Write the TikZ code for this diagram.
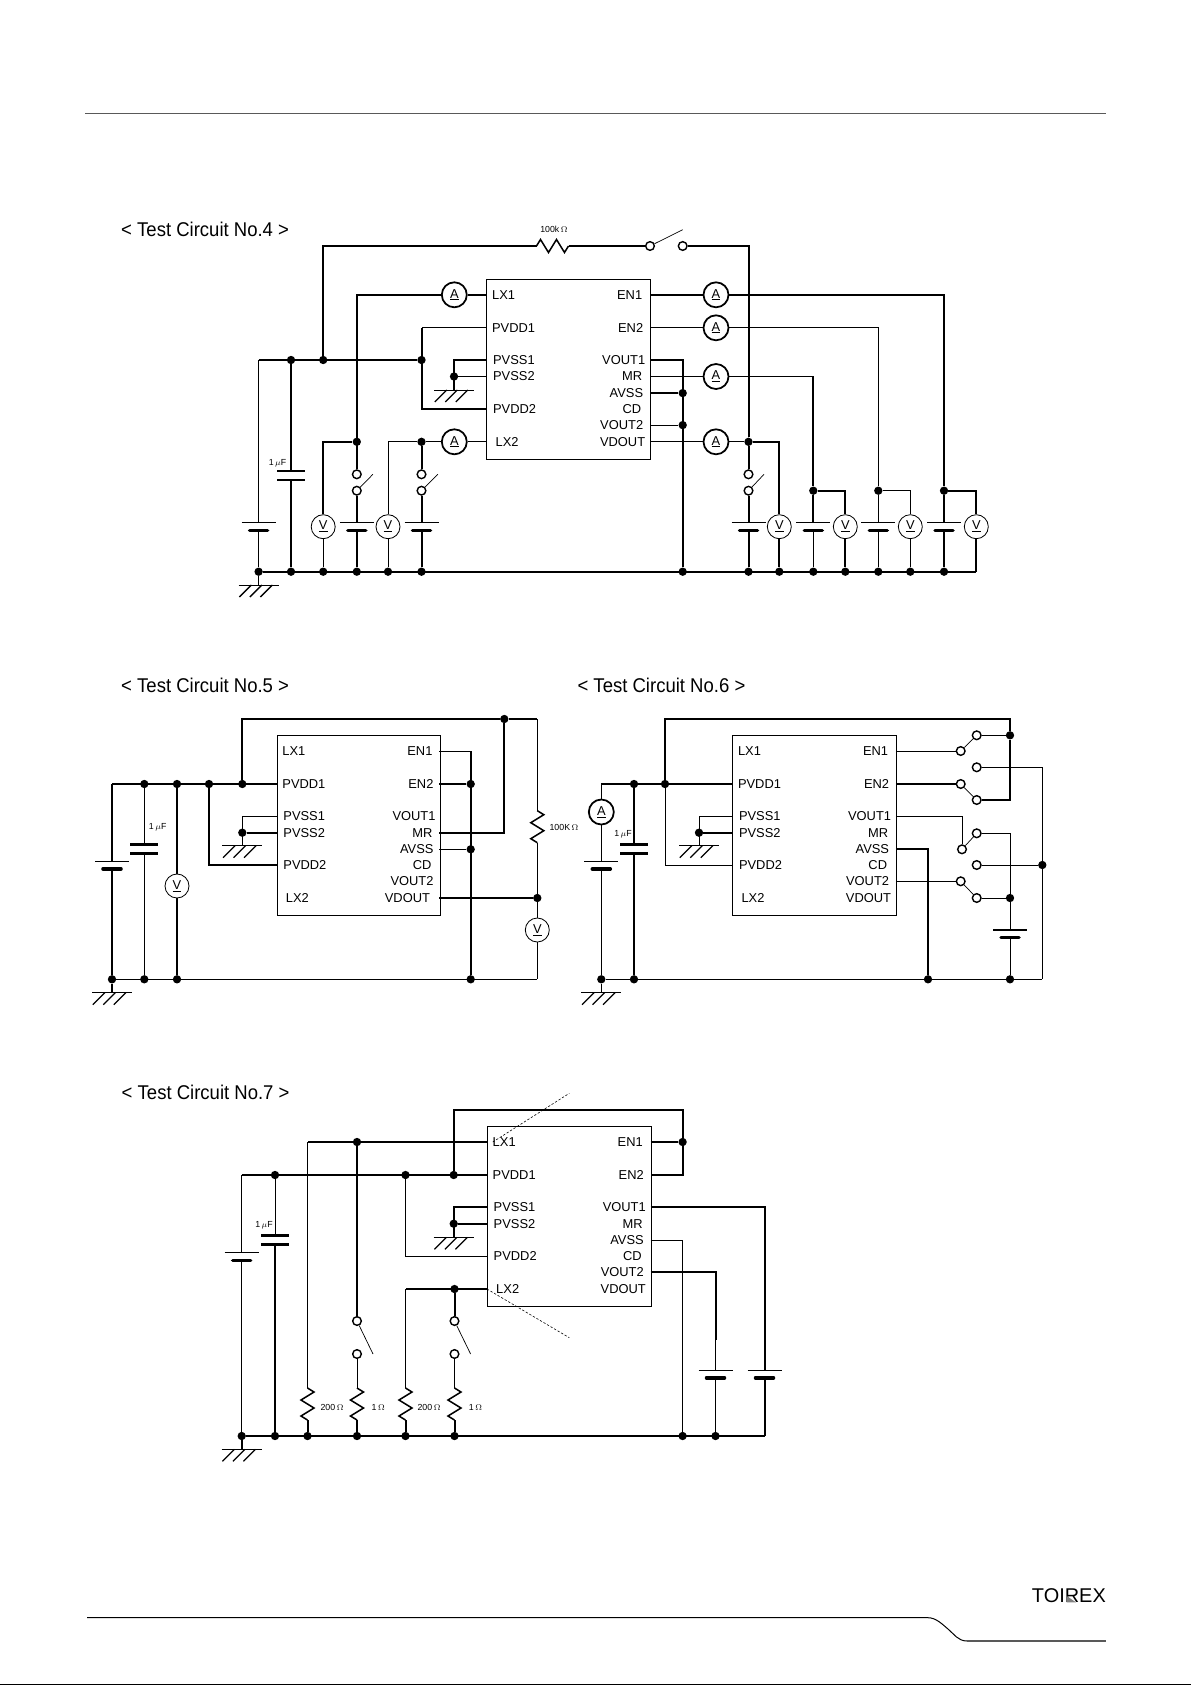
\documentclass[tikz,border=0pt]{standalone}
\usepackage{fontspec}
\setmainfont{Liberation Sans}
\newfontfamily\titlefont[FakeStretch=0.93]{Liberation Sans}
\usepackage{tikz}

\tikzset{
	wire/.style={line width=1.7pt},
	fine/.style={line width=.85pt},
	title/.style={anchor=west,inner sep=0,font=\titlefont\fontsize{17pt}{18pt}\selectfont},
	pinleft/.style={anchor=west,inner sep=0,font=\fontsize{11pt}{12pt}\selectfont},
	pinright/.style={anchor=east,inner sep=0,font=\fontsize{11pt}{12pt}\selectfont},
	tiny label/.style={inner sep=0,font=\fontsize{7.5pt}{9pt}\selectfont},
	dot/.style={circle,fill,inner sep=0,minimum size=.25cm},
	contact/.style={circle,draw,fill=white,inner sep=0,minimum size=.26cm,line width=1.2pt},
	arm/.style={line width=.6pt},
	ameter/.style={circle,draw,line width=1.5pt,inner sep=0,minimum size=.75cm,font=\fontsize{11pt}{12pt}\selectfont},
	vmeter/.style={circle,draw,line width=.7pt,inner sep=0,minimum size=.72cm,font=\fontsize{11pt}{12pt}\selectfont},
	icbody/.style={draw,fine,inner sep=0,minimum width=4.905cm,minimum height=5.4cm,anchor=north west},
	cell/.pic={
		\coordinate (-t) at (0,0);
		\coordinate (-b) at (0,7.6);
		\draw[line width=1.2pt] (-17,0) -- (17,0);
		\draw[line width=3pt,line cap=round] (-9,7.6) -- (9,7.6);
	},
	cap/.pic={
		\coordinate (-t) at (0,0);
		\coordinate (-b) at (0,9);
		\draw[line width=2.2pt] (-14,0) -- (14,0);
		\draw[line width=2.2pt] (-14,9) -- (14,9);
	},
	res/.pic={
		\coordinate (-a) at (0,-16);
		\coordinate (-b) at (0,16);
		\draw[line width=1.3pt] (-a) -- (6.5,-12) -- (-6.5,-4) -- (6.5,4) -- (-6.5,12) -- (-b);
	},
	earth/.pic={
		\coordinate (-t) at (0,0);
		\draw[fine] (-20,0) -- (20,0);
		\draw[line width=1.1pt] (-7.2,0) -- (-19.2,12);
		\draw[line width=1.1pt] (3.3,0) -- (-8.7,12);
		\draw[line width=1.1pt] (13.8,0) -- (1.8,12);
	},
	icblock/.pic={
		\node[icbody] (-body) at (0,-1) {};
		\node[pinleft] (-l1) at (5.5,15.3) {LX1};
		\node[pinleft] (-l2) at (5.5,48.3) {PVDD1};
		\node[pinleft] (-l3) at (6.5,80.5) {PVSS1};
		\node[pinleft] (-l4) at (6.5,97) {PVSS2};
		\node[pinleft] (-l5) at (6.5,129.6) {PVDD2};
		\node[pinleft] (-l6) at (9,162.3) {LX2};
		\node[pinright] (-r1) at (156,15.3) {EN1};
		\node[pinright] (-r2) at (157,48.3) {EN2};
		\node[pinright] (-r3) at (159,80.5) {VOUT1};
		\node[pinright] (-r4) at (156,97) {MR};
		\node[pinright] (-r5) at (157,113.6) {AVSS};
		\node[pinright] (-r6) at (155,129.6) {CD};
		\node[pinright] (-r7) at (157,145.6) {VOUT2};
		\node[pinright] (-r8) at (#1,162.3) {VDOUT};
	}
}

\begin{document}
\begin{tikzpicture}[x=.03cm,y=-.03cm]
	\useasboundingbox (0,0) rectangle (1191,1685);

	% page furniture
	\draw[fine,gray!70!black] (85,113) -- (1106,113);
	\draw[fine] (87,1617.7) -- (928,1617.7) .. controls (936,1617.7) and (942,1624) .. (948,1629) .. controls (954,1634) and (958,1641) .. (967,1641);
	\draw[line width=1.1pt,gray!70!black] (967,1641) -- (1105.7,1641);
	\draw[line width=1.3pt] (0,1684.5) -- (1191,1684.5);
	\node[anchor=east,inner sep=0,font=\fontsize{17pt}{18pt}\selectfont] (logo) at (1106,1595.2) {TOIREX};
	\fill[gray] (1066.7,1596) -- (1076,1602.3) -- (1066.7,1602.3) -- cycle;

	% circuit no.4
	\node[title] (t_4) at (121,229) {< Test Circuit No.4 >};
	\pic (u_4) at (486.4,279.5) {icblock=159};
	\node[dot] (g4_1) at (258.6,571.7) {};
	\node[dot] (g4_2) at (291,571.7) {};
	\node[dot] (g4_3) at (323.2,571.7) {};
	\node[dot] (g4_4) at (356.8,571.7) {};
	\node[dot] (g4_5) at (388,571.7) {};
	\node[dot] (g4_6) at (421.5,571.7) {};
	\node[dot] (g4_7) at (682.7,571.7) {};
	\node[dot] (g4_8) at (748.5,571.7) {};
	\node[dot] (g4_9) at (779.3,571.7) {};
	\node[dot] (g4_10) at (813.3,571.7) {};
	\node[dot] (g4_11) at (845.3,571.7) {};
	\node[dot] (g4_12) at (878.3,571.7) {};
	\node[dot] (g4_13) at (910.3,571.7) {};
	\node[dot] (g4_14) at (944,571.7) {};
	\coordinate (c4_1) at (976.3,571.7);
	\coordinate (c4_2) at (258.6,360);
	\node[dot] (d4_1) at (291,360) {};
	\node[dot] (d4_2) at (323.2,360) {};
	\node[dot] (d4_3) at (421.5,360) {};
	\node[dot] (d4_4) at (454,376.5) {};
	\node[dot] (d4_5) at (356.8,441.8) {};
	\node[dot] (d4_6) at (421.5,441.8) {};
	\node[dot] (d4_7) at (748.5,441.8) {};
	\node[dot] (d4_8) at (813.3,490.7) {};
	\node[dot] (d4_9) at (878.3,490.7) {};
	\node[dot] (d4_10) at (944,490.7) {};
	\node[dot] (d4_11) at (682.7,393.1) {};
	\node[dot] (d4_12) at (682.7,425.1) {};
	\node[ameter] (a4_1) at (454.3,294.8) {\underline{A}};
	\node[ameter] (a4_2) at (454.3,441.8) {\underline{A}};
	\node[ameter] (a4_3) at (716,294.8) {\underline{A}};
	\node[ameter] (a4_4) at (716,327.8) {\underline{A}};
	\node[ameter] (a4_5) at (716,376.5) {\underline{A}};
	\node[ameter] (a4_6) at (716,441.8) {\underline{A}};
	\node[vmeter] (v4_1) at (323.2,526.7) {\underline{V}};
	\node[vmeter] (v4_2) at (388,526.7) {\underline{V}};
	\node[vmeter] (v4_3) at (779.3,526.7) {\underline{V}};
	\node[vmeter] (v4_4) at (845.3,526.7) {\underline{V}};
	\node[vmeter] (v4_5) at (910.3,526.7) {\underline{V}};
	\node[vmeter] (v4_6) at (976.3,526.7) {\underline{V}};
	\pic (b4_1) at (258.6,522.7) {cell};
	\pic (b4_2) at (356.8,522.7) {cell};
	\pic (b4_3) at (421.5,522.7) {cell};
	\pic (b4_4) at (748.5,522.7) {cell};
	\pic (b4_5) at (813.3,522.7) {cell};
	\pic (b4_6) at (878.3,522.7) {cell};
	\pic (b4_7) at (944,522.7) {cell};
	\pic (k4_1) at (291,471) {cap};
	\pic (e4_1) at (258.6,585) {earth};
	\pic (e4_2) at (454,390) {earth};
	\pic[rotate=90] (r4_1) at (552.5,246) {res};
	\node[tiny label] (l4_1) at (554,229) {100k$\,\Omega$};
	\node[tiny label] (l4_2) at (277.5,463.3) {1\,$\mu$F};
	\node[contact] (s4_1) at (650,246) {};
	\node[contact] (s4_2) at (682.7,246) {};
	\node[contact] (s4_3) at (356.8,474.3) {};
	\node[contact] (s4_4) at (356.8,490.7) {};
	\node[contact] (s4_5) at (421.5,474.3) {};
	\node[contact] (s4_6) at (421.5,490.7) {};
	\node[contact] (s4_7) at (748.5,474.3) {};
	\node[contact] (s4_8) at (748.5,490.7) {};
	\coordinate (h4_1) at (682.7,229.7);
	\coordinate (h4_2) at (372.9,474.3);
	\coordinate (h4_3) at (437.9,474.3);
	\coordinate (h4_4) at (764,474.3);
	\draw[arm] (s4_1) -- (h4_1);
	\draw[arm] (s4_4) -- (h4_2);
	\draw[arm] (s4_6) -- (h4_3);
	\draw[arm] (s4_8) -- (h4_4);
	\draw[wire] (g4_1) -- (c4_1);
	\draw[fine] (c4_2) -- (b4_1-t);
	\draw[fine] (b4_1-b) -- (g4_1) -- (e4_1-t);
	\draw[wire] (c4_2) -- (d4_3);
	\draw[wire] (d4_1) -- (k4_1-t);
	\draw[wire] (k4_1-b) -- (g4_2);
	\draw[wire] (d4_2) |- (r4_1-a);
	\draw[wire] (r4_1-b) -- (s4_1);
	\draw[wire] (s4_2) -| (d4_7);
	\draw[wire] (u_4-body.north west |- a4_1) -- (a4_1);
	\draw[wire] (a4_1) -| (s4_3);
	\draw[wire] (s4_4) -- (b4_2-t);
	\draw[wire] (b4_2-b) -- (g4_4);
	\draw[wire] (d4_5) -| (v4_1);
	\draw[fine] (v4_1) -- (g4_3);
	\draw[fine] (u_4-body.north west |- a4_2) -- (a4_2);
	\draw[fine] (a4_2) -- (d4_6);
	\draw[fine] (d4_6) -| (v4_2);
	\draw[fine] (v4_2) -- (g4_5);
	\draw[wire] (d4_6) -- (s4_5);
	\draw[wire] (s4_6) -- (b4_3-t);
	\draw[wire] (b4_3-b) -- (g4_6);
	\draw[fine] (486.4,327.8) -- (421.5,327.8);
	\draw[wire] (421.5,327.8) -- (421.5,409.1) -- (486.4,409.1);
	\draw[wire] (486.4,360) -- (454,360) -- (e4_2-t);
	\draw[wire] (d4_4) -- (486.4,376.5);
	\draw[wire] (u_4-body.north east |- a4_3) -- (a4_3);
	\draw[wire] (a4_3) -| (d4_10);
	\draw[wire] (d4_10) -- (b4_7-t);
	\draw[wire] (b4_7-b) -- (g4_14);
	\draw[wire] (d4_10) -| (v4_6);
	\draw[wire] (v4_6) -- (c4_1);
	\draw[fine] (u_4-body.north east |- a4_4) -- (a4_4);
	\draw[fine] (a4_4) -| (d4_9);
	\draw[fine] (d4_9) -- (b4_6-t);
	\draw[fine] (b4_6-b) -- (g4_12);
	\draw[fine] (d4_9) -| (v4_5);
	\draw[fine] (v4_5) -- (g4_13);
	\draw[wire] (u_4-body.north east |- a4_5) -- (a4_5);
	\draw[wire] (a4_5) -| (d4_8);
	\draw[wire] (d4_8) -- (b4_5-t);
	\draw[fine] (b4_5-b) -- (g4_10);
	\draw[wire] (d4_8) -| (v4_4);
	\draw[wire] (v4_4) -- (g4_11);
	\draw[fine] (u_4-body.north east |- a4_6) -- (a4_6);
	\draw[fine] (a4_6) -- (d4_7);
	\draw[wire] (d4_7) -- (s4_7);
	\draw[wire] (s4_8) -- (b4_4-t);
	\draw[wire] (b4_4-b) -- (g4_8);
	\draw[wire] (d4_7) -| (v4_3);
	\draw[wire] (v4_3) -- (g4_9);
	\draw[wire] (650,360) -| (g4_7);
	\draw[wire] (650,393.1) -- (d4_11);
	\draw[fine] (650,425.1) -- (d4_12);

	% circuit no.5
	\node[title] (t_5) at (121,685) {< Test Circuit No.5 >};
	\pic (u_5) at (276.7,735.7) {icblock=153.5};
	\node[dot] (g5_1) at (112,979.3) {};
	\node[dot] (g5_2) at (144.3,979.3) {};
	\node[dot] (g5_3) at (177,979.3) {};
	\node[dot] (g5_4) at (470.7,979.3) {};
	\coordinate (c5_1) at (537.3,979.3);
	\coordinate (c5_2) at (112,784);
	\coordinate (c5_3) at (537.3,719);
	\node[dot] (d5_1) at (144.3,784) {};
	\node[dot] (d5_2) at (177,784) {};
	\node[dot] (d5_3) at (209,784) {};
	\node[dot] (d5_4) at (242.3,784) {};
	\node[dot] (d5_5) at (504.3,719) {};
	\node[dot] (d5_6) at (242.3,832.7) {};
	\node[dot] (d5_7) at (470.7,784) {};
	\node[dot] (d5_8) at (470.7,849.3) {};
	\node[dot] (d5_9) at (537.3,898) {};
	\node[vmeter] (v5_1) at (177,886) {\underline{V}};
	\node[vmeter] (v5_2) at (537.3,930) {\underline{V}};
	\pic (b5_1) at (112,861.3) {cell};
	\pic (k5_1) at (144.3,844.3) {cap};
	\pic (e5_1) at (112,992.7) {earth};
	\pic (e5_2) at (242.3,845.7) {earth};
	\pic (r5_1) at (537.3,826.7) {res};
	\node[tiny label] (l5_1) at (564,827.7) {100K$\,\Omega$};
	\node[tiny label] (l5_2) at (157.7,827.7) {1\,$\mu$F};
	\draw[fine] (g5_1) -- (c5_1);
	\draw[wire] (g5_1) -- (e5_1-t);
	\draw[wire] (c5_2) -- (276.7,784);
	\draw[wire] (c5_2) -- (b5_1-t);
	\draw[wire] (b5_1-b) -- (g5_1);
	\draw[fine] (d5_1) -- (k5_1-t);
	\draw[fine] (k5_1-b) -- (g5_2);
	\draw[wire] (d5_2) -- (v5_1);
	\draw[wire] (v5_1) -- (g5_3);
	\draw[wire] (d5_3) |- (276.7,865.3);
	\draw[wire] (d5_4) |- (d5_5);
	\draw[wire] (d5_5) -- (c5_3);
	\draw[fine] (c5_3) -- (r5_1-a);
	\draw[fine] (r5_1-b) -- (d5_9);
	\draw[fine] (d5_9) -- (v5_2);
	\draw[fine] (v5_2) -- (c5_1);
	\draw[wire] (d5_5) |- (439.3,832.7);
	\draw[fine] (276.7,816.2) -- (242.3,816.2) -- (e5_2-t);
	\draw[wire] (d5_6) -- (276.7,832.7);
	\draw[fine] (439.3,751) -- (470.7,751);
	\draw[wire] (470.7,751) -- (g5_4);
	\draw[wire] (439.3,784) -- (d5_7);
	\draw[fine] (439.3,849.3) -- (d5_8);
	\draw[wire] (439.3,898) -- (d5_9);

	% circuit no.6
	\node[title] (t_6) at (577.3,685) {< Test Circuit No.6 >};
	\pic (u_6) at (732.3,735.7) {icblock=159};
	\node[dot] (g6_1) at (601.3,979.3) {};
	\node[dot] (g6_2) at (634,979.3) {};
	\node[dot] (g6_3) at (928,979.3) {};
	\node[dot] (g6_4) at (1010,979.3) {};
	\coordinate (c6_1) at (1042.3,979.3);
	\coordinate (c6_2) at (601.3,784);
	\node[dot] (d6_1) at (634,784) {};
	\node[dot] (d6_2) at (665,784) {};
	\node[dot] (d6_3) at (699,832.7) {};
	\node[dot] (d6_4) at (1010,735.3) {};
	\node[dot] (d6_5) at (1010,898) {};
	\node[dot] (d6_6) at (1042.3,865) {};
	\node[ameter] (a6_1) at (601.3,812) {\underline{A}};
	\pic (b6_1) at (601.3,861.3) {cell};
	\pic (b6_2) at (1010,930) {cell};
	\pic (k6_1) at (634,844.3) {cap};
	\pic (e6_1) at (601.3,992.7) {earth};
	\pic (e6_2) at (699,845.7) {earth};
	\node[tiny label] (l6_1) at (623,834.7) {1\,$\mu$F};
	\node[contact] (s6_1) at (960.7,751) {};
	\node[contact] (s6_2) at (976.7,735.3) {};
	\node[contact] (s6_3) at (976.7,767.3) {};
	\node[contact] (s6_4) at (960.7,784) {};
	\node[contact] (s6_5) at (976.7,800) {};
	\node[contact] (s6_6) at (962,849.3) {};
	\node[contact] (s6_7) at (976.7,833.3) {};
	\node[contact] (s6_8) at (976.7,865) {};
	\node[contact] (s6_9) at (960.7,881.3) {};
	\node[contact] (s6_10) at (976.7,898) {};
	\draw[arm] (s6_1) -- (s6_2);
	\draw[arm] (s6_4) -- (s6_5);
	\draw[arm] (s6_6) -- (s6_7);
	\draw[arm] (s6_9) -- (s6_10);
	\draw[fine] (g6_1) -- (c6_1);
	\draw[fine] (g6_1) -- (e6_1-t);
	\draw[wire] (c6_2) -- (732.3,784);
	\draw[fine] (c6_2) -- (a6_1);
	\draw[fine] (a6_1) -- (b6_1-t);
	\draw[fine] (b6_1-b) -- (g6_1);
	\draw[wire] (d6_1) -- (k6_1-t);
	\draw[wire] (k6_1-b) -- (g6_2);
	\draw[wire] (d6_2) |- (1010,719) -- (d6_4);
	\draw[fine] (d6_2) |- (732.3,865);
	\draw[wire] (d6_4) |- (s6_5);
	\draw[fine] (732.3,816.2) -- (699,816.2) -- (e6_2-t);
	\draw[wire] (d6_3) -- (732.3,832.7);
	\draw[fine] (895.8,751) -- (s6_1);
	\draw[fine] (s6_2) -- (d6_4);
	\draw[wire] (895.8,784) -- (s6_4);
	\draw[fine] (895.8,816.2) -| (s6_6);
	\draw[wire] (895.8,849.3) -| (g6_3);
	\draw[fine] (895.8,881.3) -- (s6_9);
	\draw[fine] (s6_7) -| (d6_5);
	\draw[fine] (s6_10) -- (d6_5);
	\draw[fine] (d6_5) -- (b6_2-t);
	\draw[fine] (b6_2-b) -- (g6_4);
	\draw[line width=1.2pt] (s6_3) -| (c6_1);
	\draw[fine] (s6_8) -- (d6_6);

	% circuit no.7
	\node[title] (t_7) at (121.5,1092) {< Test Circuit No.7 >};
	\pic (u_7) at (487,1126.7) {icblock=159};
	\node[dot] (g7_1) at (241.7,1436) {};
	\node[dot] (g7_2) at (275,1436) {};
	\node[dot] (g7_3) at (307.5,1436) {};
	\node[dot] (g7_4) at (357,1436) {};
	\node[dot] (g7_5) at (405.5,1436) {};
	\node[dot] (g7_6) at (454.5,1436) {};
	\node[dot] (g7_7) at (682.6,1436) {};
	\node[dot] (g7_8) at (715.5,1436) {};
	\coordinate (c7_1) at (764.5,1436);
	\coordinate (c7_2) at (241.7,1175);
	\coordinate (c7_3) at (307.5,1142);
	\coordinate (c7_4) at (405.5,1289);
	\coordinate (c7_5) at (453.7,1110);
	\coordinate (c7_6) at (682.6,1110);
	\coordinate (c7_7) at (682.6,1175);
	\node[dot] (d7_1) at (357,1142) {};
	\node[dot] (d7_2) at (275,1175) {};
	\node[dot] (d7_3) at (405.5,1175) {};
	\node[dot] (d7_4) at (453.7,1175) {};
	\node[dot] (d7_5) at (453.7,1223.7) {};
	\node[dot] (d7_6) at (454.5,1289) {};
	\node[dot] (d7_7) at (682.6,1142) {};
	\pic (b7_1) at (241.7,1252.7) {cell};
	\pic (b7_2) at (715.5,1370.3) {cell};
	\pic (b7_3) at (764.5,1370.3) {cell};
	\pic (k7_1) at (275,1235.7) {cap};
	\pic (e7_1) at (241.7,1449.3) {earth};
	\pic (e7_2) at (453.7,1237.3) {earth};
	\pic (r7_1) at (307.5,1404) {res};
	\pic (r7_2) at (357,1404) {res};
	\pic (r7_3) at (405.5,1404) {res};
	\pic (r7_4) at (454.5,1404) {res};
	\node[tiny label] (l7_1) at (264,1225.3) {1\,$\mu$F};
	\node[tiny label] (l7_2) at (332,1407.3) {200$\,\Omega$};
	\node[tiny label] (l7_3) at (378.3,1407.3) {1$\,\Omega$};
	\node[tiny label] (l7_4) at (429,1407.3) {200$\,\Omega$};
	\node[tiny label] (l7_5) at (475.5,1407.3) {1$\,\Omega$};
	\node[contact] (s7_1) at (357,1321) {};
	\node[contact] (s7_2) at (357,1354) {};
	\node[contact] (s7_3) at (454.5,1321) {};
	\node[contact] (s7_4) at (454.5,1354) {};
	\coordinate (h7_1) at (373,1354);
	\coordinate (h7_2) at (470.6,1354);
	\coordinate (h7_3) at (492.8,1142);
	\coordinate (h7_4) at (569.3,1093.3);
	\coordinate (h7_5) at (487,1289);
	\coordinate (h7_6) at (569.3,1337.7);
	\draw[arm] (s7_1) -- (h7_1);
	\draw[arm] (s7_3) -- (h7_2);
	\draw[line width=.5pt,dash pattern=on 2pt off 1.5pt] (h7_3) -- (h7_4);
	\draw[line width=.5pt,dash pattern=on 2pt off 1.5pt] (h7_5) -- (h7_6);
	\draw[wire] (g7_1) -- (c7_1);
	\draw[wire] (g7_1) -- (e7_1-t);
	\draw[wire] (c7_2) -- (487,1175);
	\draw[fine] (c7_2) -- (b7_1-t);
	\draw[fine] (b7_1-b) -- (g7_1);
	\draw[fine] (d7_2) -- (k7_1-t);
	\draw[wire] (k7_1-b) -- (g7_2);
	\draw[wire] (487,1142) -- (c7_3);
	\draw[fine] (c7_3) -- (r7_1-a);
	\draw[wire] (r7_1-b) -- (g7_3);
	\draw[wire] (d7_1) -- (s7_1);
	\draw[fine] (s7_2) -- (r7_2-a);
	\draw[wire] (r7_2-b) -- (g7_4);
	\draw[fine] (d7_3) |- (487,1256.3);
	\draw[wire] (d7_4) -- (c7_5) -- (c7_6) -- (c7_7) -- (650.5,1175);
	\draw[wire] (650.5,1142) -- (d7_7);
	\draw[wire] (487,1207.2) -- (453.7,1207.2) -- (e7_2-t);
	\draw[wire] (d7_5) -- (487,1223.7);
	\draw[wire] (487,1289) -- (c7_4);
	\draw[fine] (c7_4) -- (r7_3-a);
	\draw[wire] (r7_3-b) -- (g7_5);
	\draw[wire] (d7_6) -- (s7_3);
	\draw[fine] (s7_4) -- (r7_4-a);
	\draw[wire] (r7_4-b) -- (g7_6);
	\draw[wire] (650.5,1207.2) -| (b7_3-t);
	\draw[wire] (b7_3-b) -- (c7_1);
	\draw[fine] (650.5,1240.3) -| (g7_7);
	\draw[wire] (650.5,1272.3) -| (715.5,1340);
	\draw[fine] (715.5,1340) -- (b7_2-t);
	\draw[fine] (b7_2-b) -- (g7_8);
\end{tikzpicture}
\end{document}
